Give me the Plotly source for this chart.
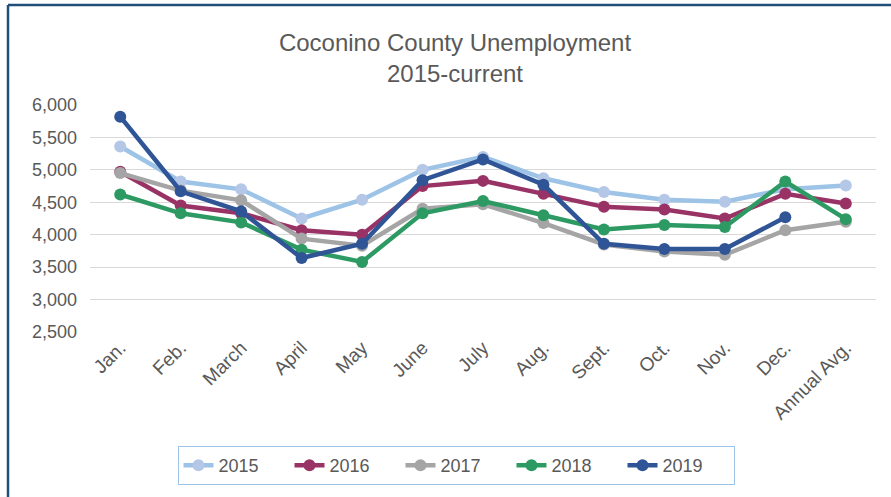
import plotly.graph_objects as go

categories = ["Jan.", "Feb.", "March", "April", "May", "June", "July", "Aug.",
              "Sept.", "Oct.", "Nov.", "Dec.", "Annual Avg."]

y2015 = [5360, 4820, 4700, 4250, 4540, 5000, 5200, 4870, 4660, 4540, 4510, 4700, 4760]
y2016 = [4970, 4450, 4330, 4070, 4000, 4750, 4830, 4630, 4430, 4390, 4250, 4630, 4480]
y2017 = [4950, 4680, 4530, 3940, 3830, 4400, 4470, 4180, 3850, 3740, 3690, 4070, 4200]
y2018 = [4620, 4330, 4190, 3770, 3580, 4330, 4520, 4300, 4080, 4150, 4120, 4820, 4240]
y2019 = [5820, 4670, 4360, 3640, 3860, 4840, 5160, 4770, 3860, 3780, 3780, 4270, None]

series_names = ["2015", "2016", "2017", "2018", "2019"]
series_values = [y2015, y2016, y2017, y2018, y2019]
line_colors = ["#9DC3E6", "#993366", "#A5A5A5", "#2E9A63", "#2F5597"]
marker_colors = ["#B4C7E7", "#993366", "#A5A5A5", "#2E9A63", "#2F5597"]

fig = go.Figure()
for name, vals, lc, mc in zip(series_names, series_values, line_colors, marker_colors):
    fig.add_trace(go.Scatter(
        x=categories, y=vals, name=name, mode="lines+markers",
        line=dict(color=lc, width=4.5),
        marker=dict(color=mc, size=12),
        cliponaxis=False,
    ))

W, H = 891, 497
L, R, T, B = 90, 15, 105, 165
pw, ph = W - L - R, H - T - B

def px_x(px):
    return (px - L) / pw

def px_y(py):
    return (H - B - py) / ph

border = "#1F4E79"
fig.add_shape(type="line", xref="paper", yref="paper",
              x0=px_x(8), x1=px_x(900), y0=px_y(5), y1=px_y(5),
              line=dict(color=border, width=2.5))
fig.add_shape(type="line", xref="paper", yref="paper",
              x0=px_x(8), x1=px_x(8), y0=px_y(5), y1=px_y(510),
              line=dict(color=border, width=2.5))

fig.update_layout(
    width=W, height=H,
    margin=dict(l=L, r=R, t=T, b=B, autoexpand=False),
    paper_bgcolor="white", plot_bgcolor="white",
    font=dict(family="Liberation Sans, Arial, sans-serif", color="#595959"),
    title=dict(text="Coconino County Unemployment<br>2015-current",
               x=px_x(455), xref="paper", xanchor="center",
               y=1 - 51 / H, yanchor="middle",
               font=dict(size=24, color="#595959")),
    showlegend=True,
    legend=dict(orientation="h", x=px_x(456), xanchor="center",
                y=px_y(465.5), yanchor="middle",
                bordercolor="#9DC3E6", borderwidth=1,
                font=dict(family="Liberation Sans Narrow, Arial Narrow, Liberation Sans, sans-serif",
                          size=18, color="#595959"),
                entrywidth=66, entrywidthmode="pixels",
                itemwidth=30),
)
fig.update_xaxes(type="category", tickangle=-45, showgrid=False, automargin=False,
                 showline=False, ticks="", tickfont=dict(size=19, color="#595959"),
                 range=[-0.5, 12.5])
fig.update_yaxes(range=[2500, 6000], dtick=500, tickformat=",", automargin=False,
                 showgrid=True, gridcolor="#D9D9D9", gridwidth=1,
                 showline=False, zeroline=False, ticks="", ticklabelstandoff=12,
                 tickfont=dict(size=18, color="#595959"))

fig.write_html("out.html", config={"displayModeBar": False},
               post_script="document.body.style.margin='0';document.body.style.overflow='hidden';")
